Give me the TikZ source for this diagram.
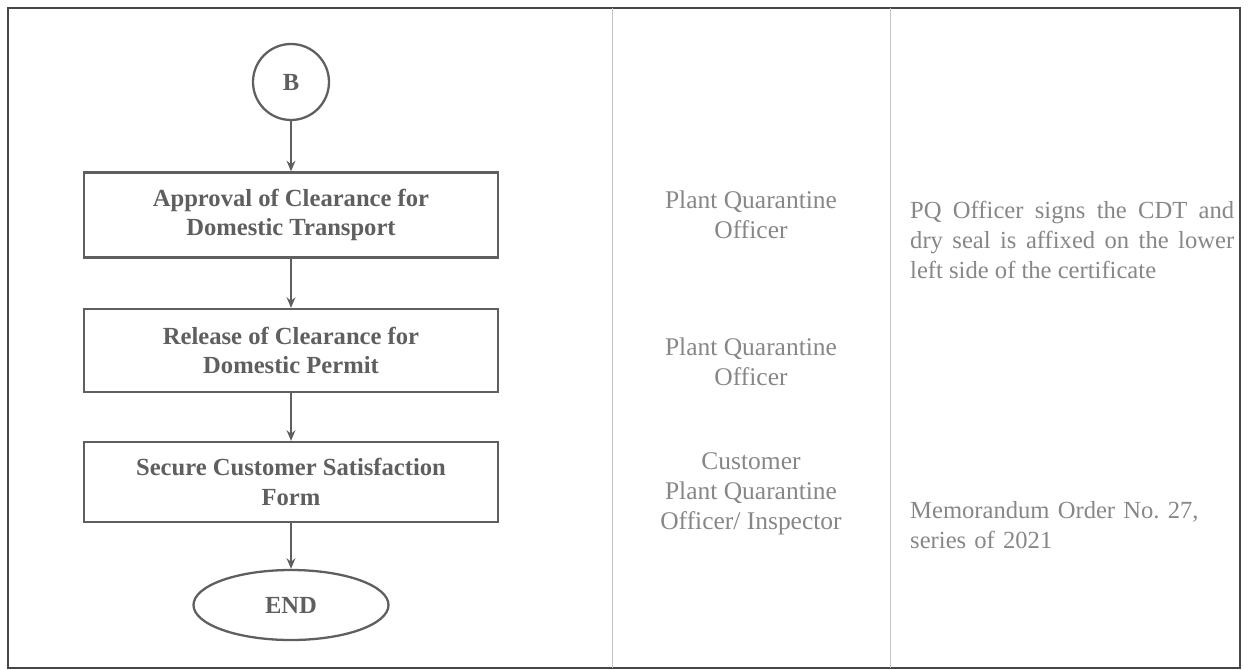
\documentclass[tikz,border=0pt]{standalone}
\usepackage{fontspec}
\setmainfont{Liberation Serif}
\usetikzlibrary{positioning, shapes.geometric, arrows.meta}

\definecolor{flowgray}{RGB}{95,95,95}
\definecolor{notegray}{RGB}{135,135,135}
\definecolor{framegray}{RGB}{70,70,70}

\begin{document}
\begin{tikzpicture}[>={Stealth[length=6pt,width=5pt]}, node distance=2.7cm, on grid,
    stepbox/.style={draw=flowgray, line width=1.3pt, minimum width=8.28cm, minimum height=1.7cm,
      align=center, text=flowgray, font=\fontsize{14}{17}\selectfont\bfseries},
    connector/.style={draw=flowgray, line width=1.3pt, circle, minimum size=1.52cm,
      text=flowgray, font=\fontsize{14}{17}\selectfont\bfseries},
    terminal/.style={draw=flowgray, line width=1.3pt, ellipse, minimum width=3.9cm, minimum height=1.4cm,
      text=flowgray, font=\fontsize{14}{17}\selectfont\bfseries},
    who/.style={align=center, text=notegray, font=\fontsize{14.5}{17}\selectfont},
    note/.style={text width=6.48cm, align=justify, text=notegray, font=\fontsize{14}{17}\selectfont}]

  \useasboundingbox (0,0) rectangle (24.98,-13.4);

  % table frame
  \draw[framegray, line width=1.1pt] (0.16,-0.16) rectangle (24.8,-13.36);
  \draw[notegray!50, line width=0.4pt] (12.24,-0.16) -- (12.24,-13.36);
  \draw[notegray!50, line width=0.4pt] (17.8,-0.16) -- (17.8,-13.36);

  % flow
  \node[connector] (b) at (5.82,-1.64) {B};
  \node[stepbox, below=2.66cm of b] (approval) {Approval of Clearance for\\Domestic Transport};
  \node[stepbox, below=2.71cm of approval, minimum height=1.66cm] (release) {Release of Clearance for\\Domestic Permit};
  \node[stepbox, below=2.63cm of release, minimum height=1.6cm] (secure) {Secure Customer Satisfaction\\Form};
  \node[terminal, below=2.46cm of secure] (end) {END};

  \path[->, draw=flowgray, line width=1.3pt] (b) edge (approval);
  \path[->, draw=flowgray, line width=1.3pt] (approval) edge (release);
  \path[->, draw=flowgray, line width=1.3pt] (release) edge (secure);
  \path[->, draw=flowgray, line width=1.3pt] (secure) edge (end);

  % responsible
  \node[who] (who1) at (15.02,-4.3) {Plant Quarantine\\Officer};
  \node[who] (who2) at (15.02,-7.24) {Plant Quarantine\\Officer};
  \node[who] (who3) at (15.02,-9.88) {Customer\\Plant Quarantine\\Officer/ Inspector};

  % remarks
  \node[note, anchor=west] (note1) at (18.08,-4.8) {PQ Officer signs the CDT and\linebreak dry seal is affixed on the lower\linebreak left side of the certificate};
  \node[note, anchor=west, align=left] (note2) at (18.08,-10.5) {Memorandum Order No.\ 27,\\series of 2021};

\end{tikzpicture}
\end{document}
